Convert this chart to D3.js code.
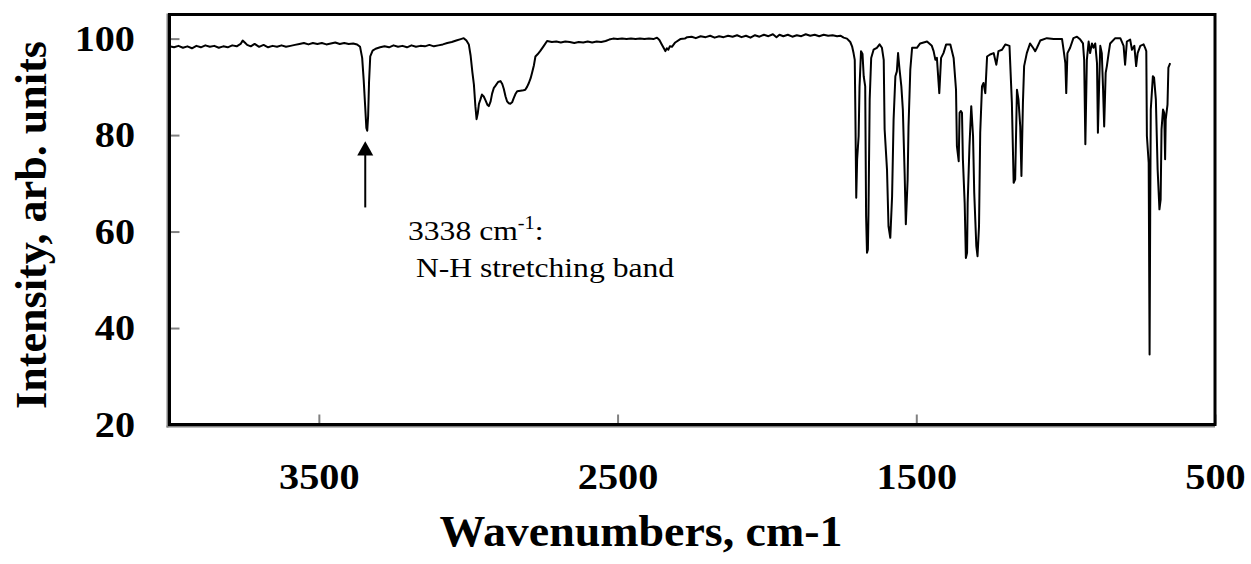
<!DOCTYPE html>
<html>
<head>
<meta charset="utf-8">
<script src="https://cdn.jsdelivr.net/npm/d3@7"></script>
<style>
  body { margin: 0; background: #fff; }
  svg { display: block; }
</style>
</head>
<body>
<svg id="chart" width="1251" height="564"></svg>
<script>
// FTIR spectrum: wavenumber (cm-1) and intensity (arb. units)
const wavenumbers = [
  4000, 3985, 3970, 3955, 3940, 3925, 3910, 3895, 3880, 3865, 3850, 3835, 3820, 3805, 3790, 3775,
  3762, 3755, 3748, 3740, 3728, 3715, 3700, 3685, 3670, 3655, 3640, 3625, 3610, 3595, 3580, 3565,
  3550, 3535, 3520, 3505, 3490, 3475, 3460, 3445, 3430, 3415, 3400, 3385, 3372, 3362, 3355, 3350,
  3345, 3341, 3338, 3335, 3332, 3328, 3320, 3310, 3295, 3280, 3265, 3250, 3235, 3220, 3205, 3190,
  3175, 3160, 3145, 3130, 3115, 3100, 3085, 3070, 3055, 3040, 3025, 3015, 3006, 2998, 2992, 2986,
  2981, 2976, 2972, 2968, 2964, 2959, 2954, 2948, 2942, 2936, 2931, 2925, 2920, 2914, 2909, 2900,
  2892, 2886, 2881, 2875, 2870, 2864, 2859, 2853, 2848, 2842, 2836, 2825, 2815, 2809, 2803, 2797,
  2791, 2786, 2780, 2775, 2767, 2758, 2748, 2736, 2720, 2705, 2690, 2675, 2660, 2645, 2630, 2615,
  2600, 2585, 2570, 2555, 2540, 2528, 2515, 2500, 2485, 2470, 2455, 2440, 2425, 2410, 2395, 2380,
  2368, 2360, 2352, 2345, 2340, 2335, 2330, 2325, 2318, 2307, 2290, 2275, 2267, 2252, 2238, 2222,
  2205, 2190, 2175, 2160, 2145, 2130, 2115, 2100, 2085, 2070, 2055, 2040, 2025, 2010, 1995, 1980,
  1968, 1958, 1945, 1930, 1915, 1900, 1885, 1870, 1855, 1840, 1825, 1810, 1795, 1780, 1765, 1754,
  1743, 1732, 1721, 1715, 1710, 1706, 1704, 1701, 1698, 1693, 1690, 1685, 1680, 1676, 1671, 1668,
  1665, 1662, 1660, 1656, 1651, 1643, 1632, 1623, 1615, 1609, 1606, 1598, 1593, 1587, 1581, 1576,
  1570, 1565, 1561, 1556, 1550, 1545, 1539, 1535, 1529, 1526, 1520, 1514, 1498, 1487, 1464, 1448,
  1442, 1436, 1431, 1423, 1417, 1409, 1400, 1386, 1375, 1367, 1364, 1358, 1355, 1351, 1347, 1344,
  1338, 1334, 1330, 1328, 1322, 1316, 1310, 1306, 1299, 1295, 1290, 1286, 1280, 1275, 1269, 1263,
  1253, 1241, 1232, 1225, 1213, 1202, 1188, 1180, 1174, 1169, 1163, 1158, 1152, 1148, 1143, 1139,
  1130, 1119, 1108, 1102, 1096, 1085, 1063, 1040, 1012, 1007, 1001, 998, 994, 985, 974, 962,
  951, 942, 938, 934, 929, 923, 918, 912, 907, 901, 895, 892, 888, 884, 879, 875,
  871, 866, 862, 856, 851, 834, 817, 806, 801, 795, 784, 778, 770, 764, 759, 750,
  739, 734, 730, 728, 722, 719, 717, 715, 708, 704, 698, 692, 686, 682, 679, 674,
  670, 667, 665, 659, 656, 650
];
const intensity = [
  98.4, 98.2, 98.5, 98.1, 98.4, 98.0, 98.5, 98.2, 98.6, 98.3, 98.5, 98.1, 98.4, 98.2, 98.6, 98.4,
  98.9, 99.6, 99.2, 98.7, 98.4, 98.9, 98.3, 98.7, 98.2, 98.5, 98.3, 98.6, 98.3, 98.5, 98.7, 98.9,
  99.1, 98.8, 99.1, 98.9, 99.1, 98.8, 99.0, 99.2, 98.9, 99.1, 98.9, 99.0, 98.8, 98.3, 96.0, 91.5,
  86.0, 81.5, 80.9, 84.0, 91.0, 96.3, 97.5, 97.9, 98.2, 98.4, 98.2, 98.6, 98.3, 98.5, 98.2, 98.6,
  98.3, 98.5, 98.4, 98.7, 98.4, 98.6, 98.8, 99.1, 99.3, 99.6, 99.9, 100.1, 99.6, 98.8, 96.5, 93.0,
  90.5, 86.0, 83.3, 84.5, 86.5, 87.4, 88.4, 88.0, 87.2, 86.3, 86.0, 87.0, 88.6, 89.8, 90.2, 91.0,
  91.2, 90.6, 89.6, 88.0, 87.0, 86.6, 86.5, 86.8, 87.6, 88.5, 89.1, 89.2, 89.3, 89.4, 90.0, 90.8,
  91.8, 93.0, 94.5, 96.3, 96.8, 97.5, 98.4, 99.5, 99.3, 99.4, 99.2, 99.4, 99.3, 99.1, 99.3, 99.2,
  99.4, 99.2, 99.4, 99.3, 99.5, 99.8, 100.0, 99.9, 100.0, 99.9, 100.0, 99.9, 100.0, 99.9, 100.0, 99.9,
  100.2, 99.7, 98.8, 98.0, 97.4, 98.0, 97.7, 98.4, 98.3, 99.2, 99.9, 100.0, 100.3, 100.4, 100.1, 100.5,
  100.3, 100.6, 100.2, 100.5, 100.3, 100.6, 100.4, 100.7, 100.3, 100.6, 100.2, 100.7, 100.4, 100.8, 100.5, 100.9,
  100.3, 100.8, 100.5, 100.8, 100.4, 100.7, 100.5, 100.9, 100.6, 100.8, 100.5, 100.8, 100.6, 100.7, 100.5, 100.6,
  100.2, 100.0, 99.3, 98.4, 97.0, 95.6, 85.0, 67.0, 75.0, 79.8, 90.0, 97.4, 96.8, 92.2, 90.1, 63.2,
  55.6, 56.3, 63.9, 87.4, 96.0, 97.7, 98.1, 98.8, 98.1, 95.6, 81.2, 72.8, 61.1, 58.7, 67.3, 83.2,
  92.2, 93.2, 97.0, 93.6, 90.1, 85.3, 72.1, 61.5, 70.8, 81.8, 93.6, 98.1, 98.1, 99.0, 99.4, 98.5,
  97.4, 95.6, 96.0, 88.7, 96.0, 97.0, 98.8, 98.8, 96.0, 89.4, 77.7, 74.6, 84.6, 85.0, 84.6, 75.0,
  65.9, 54.5, 55.6, 65.9, 77.7, 86.0, 79.8, 68.0, 57.0, 54.9, 61.1, 80.5, 90.1, 90.8, 88.7, 96.3,
  96.7, 97.0, 94.6, 97.4, 97.7, 98.8, 98.5, 86.7, 70.1, 70.8, 89.4, 87.4, 81.8, 71.5, 86.7, 94.3,
  97.0, 99.0, 98.0, 97.4, 98.1, 99.6, 100.1, 99.9, 99.9, 97.7, 94.9, 88.7, 97.0, 98.1, 100.1, 100.4,
  99.8, 99.0, 95.6, 78.1, 95.6, 99.4, 97.0, 99.0, 98.1, 99.0, 94.9, 80.5, 90.1, 98.5, 97.0, 90.1,
  81.8, 92.9, 94.3, 97.0, 99.0, 100.1, 100.1, 98.5, 94.6, 99.4, 99.8, 97.7, 98.5, 94.3, 97.0, 98.5,
  98.8, 98.1, 97.4, 79.8, 74.3, 34.5, 62.5, 85.3, 92.2, 91.9, 87.4, 72.8, 64.6, 66.6, 81.2, 85.3,
  84.6, 75.0, 83.2, 86.3, 94.0, 94.9
];

const xTickValues = [3500, 2500, 1500, 500];
const yTickValues = [20, 40, 60, 80, 100];
const xTitle = "Wavenumbers, cm-1";
const yTitle = "Intensity, arb. units";
const bandWavenumber = 3338;
const bandLine1 = "3338 cm";
const bandLine2 = "N-H stretching band";

const serif = "'Liberation Serif', 'Times New Roman', Times, serif";
const svg = d3.select("#chart");

const plot = { left: 169.5, right: 1215, top: 14.5, bottom: 424.5 };

const x = d3.scaleLinear().domain([4000, 500]).range([plot.left, plot.right]);
const y = d3.scaleLinear().domain([20, 105]).range([plot.bottom, plot.top]);

const points = wavenumbers.map((w, i) => ({ w, v: intensity[i] }));

// grey axis lines just outside the plot border
svg.append("line")
  .attr("x1", plot.left - 2).attr("x2", plot.left - 2)
  .attr("y1", plot.top - 1).attr("y2", plot.bottom + 3)
  .attr("stroke", "#808080").attr("stroke-width", 2);
svg.append("line")
  .attr("x1", plot.left - 3).attr("x2", plot.right)
  .attr("y1", plot.bottom + 2).attr("y2", plot.bottom + 2)
  .attr("stroke", "#808080").attr("stroke-width", 2);

// x axis
const gx = svg.append("g")
  .attr("transform", `translate(0,${plot.bottom})`)
  .call(d3.axisBottom(x).tickValues(xTickValues).tickSizeInner(-10).tickSizeOuter(0).tickFormat(d3.format("d")));
gx.select(".domain").remove();
gx.attr("font-family", serif).attr("font-size", 35).attr("font-weight", "bold");
gx.selectAll(".tick line").attr("stroke", "#808080").attr("stroke-width", 2);
gx.selectAll(".tick text")
  .attr("y", 65).attr("dy", null)
  .attr("fill", "#000")
  .attr("transform", "scale(1.15,1)");

// y axis
const gy = svg.append("g")
  .attr("transform", `translate(${plot.left},0)`)
  .call(d3.axisLeft(y).tickValues(yTickValues).tickSizeInner(-10).tickSizeOuter(0).tickFormat(d3.format("d")));
gy.select(".domain").remove();
gy.attr("font-family", serif).attr("font-size", 35).attr("font-weight", "bold");
gy.selectAll(".tick line").attr("stroke", "#808080").attr("stroke-width", 2);
gy.selectAll(".tick text")
  .attr("x", -30).attr("dy", "0.34em")
  .attr("fill", "#000")
  .attr("transform", "scale(1.15,1)");

// plot border
svg.append("rect")
  .attr("x", plot.left).attr("y", plot.top)
  .attr("width", plot.right - plot.left).attr("height", plot.bottom - plot.top)
  .attr("fill", "none").attr("stroke", "#000").attr("stroke-width", 3);

// spectrum trace
const line = d3.line().x(d => x(d.w)).y(d => y(d.v));
svg.append("path")
  .datum(points)
  .attr("d", line)
  .attr("fill", "none")
  .attr("stroke", "#000")
  .attr("stroke-width", 2)
  .attr("stroke-linejoin", "round");

// band annotation arrow
const ax = x(bandWavenumber) - 2;
const tipY = y(78.7), headY = y(76), tailY = y(65);
svg.append("line")
  .attr("x1", ax).attr("x2", ax).attr("y1", headY).attr("y2", tailY)
  .attr("stroke", "#000").attr("stroke-width", 2);
svg.append("path")
  .attr("d", `M${ax},${tipY} L${ax - 8},${headY + 1} L${ax + 8},${headY + 1} Z`)
  .attr("fill", "#000");

const note = svg.append("g")
  .attr("font-family", serif).attr("font-size", 28).attr("fill", "#000")
  .attr("transform", "translate(408,0) scale(1.13,1)");
const t1 = note.append("text").attr("x", 0).attr("y", 240);
t1.append("tspan").text(bandLine1);
t1.append("tspan").attr("font-size", 18).attr("dy", -11).text("-1");
t1.append("tspan").attr("dy", 11).text(":");
note.append("text").attr("x", 7).attr("y", 277).text(bandLine2);

// axis titles
svg.append("text")
  .attr("x", 641).attr("y", 546)
  .attr("text-anchor", "middle")
  .attr("font-family", serif).attr("font-size", 44).attr("font-weight", "bold")
  .attr("textLength", 403).attr("lengthAdjust", "spacingAndGlyphs")
  .text(xTitle);

svg.append("text")
  .attr("transform", "translate(46,225) rotate(-90)")
  .attr("text-anchor", "middle")
  .attr("font-family", serif).attr("font-size", 44).attr("font-weight", "bold")
  .attr("textLength", 368).attr("lengthAdjust", "spacingAndGlyphs")
  .text(yTitle);
</script>
</body>
</html>
